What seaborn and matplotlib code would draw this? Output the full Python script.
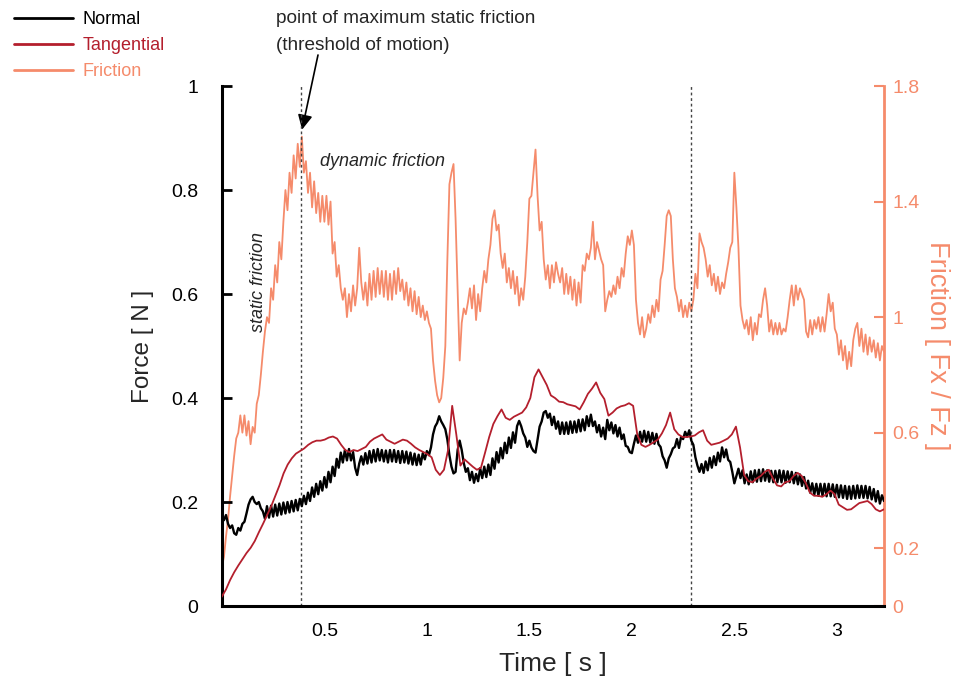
import numpy as np
import pandas as pd
import matplotlib
matplotlib.use("Agg")
import matplotlib.pyplot as plt
from matplotlib.lines import Line2D
import seaborn as sns

sns.set_style("white")
plt.rcParams["font.family"] = ["Liberation Sans", "DejaVu Sans"]

# ---------------- data ----------------
normal_force = [
    0.172, 0.165, 0.175, 0.158, 0.150, 0.155, 0.140, 0.137, 0.150, 0.145,
    0.158, 0.162, 0.178, 0.195, 0.205, 0.210, 0.200, 0.196, 0.200, 0.188,
    0.182, 0.168, 0.192, 0.170, 0.193, 0.172, 0.195, 0.174, 0.197, 0.176,
    0.199, 0.178, 0.200, 0.180, 0.202, 0.182, 0.204, 0.184, 0.206, 0.192,
    0.212, 0.196, 0.218, 0.202, 0.228, 0.210, 0.235, 0.215, 0.240, 0.222,
    0.248, 0.228, 0.258, 0.238, 0.268, 0.250, 0.283, 0.266, 0.295, 0.276,
    0.300, 0.280, 0.302, 0.280, 0.296, 0.266, 0.252, 0.274, 0.288, 0.272,
    0.294, 0.274, 0.298, 0.276, 0.300, 0.278, 0.302, 0.280, 0.300, 0.278,
    0.299, 0.276, 0.300, 0.278, 0.300, 0.277, 0.298, 0.275, 0.298, 0.276,
    0.297, 0.274, 0.295, 0.272, 0.293, 0.271, 0.291, 0.272, 0.294, 0.282,
    0.298, 0.290, 0.305, 0.330, 0.345, 0.352, 0.365, 0.355, 0.348, 0.340,
    0.320, 0.290, 0.268, 0.255, 0.258, 0.300, 0.318, 0.300, 0.275, 0.258,
    0.265, 0.242, 0.258, 0.237, 0.254, 0.240, 0.265, 0.246, 0.268, 0.248,
    0.272, 0.252, 0.284, 0.264, 0.296, 0.276, 0.304, 0.284, 0.314, 0.294,
    0.324, 0.304, 0.334, 0.314, 0.346, 0.356, 0.346, 0.332, 0.324, 0.306,
    0.318, 0.305, 0.298, 0.295, 0.320, 0.345, 0.355, 0.372, 0.375, 0.362,
    0.370, 0.348, 0.364, 0.341, 0.355, 0.331, 0.353, 0.331, 0.353, 0.331,
    0.355, 0.333, 0.355, 0.334, 0.358, 0.336, 0.359, 0.338, 0.365, 0.346,
    0.368, 0.346, 0.355, 0.334, 0.348, 0.326, 0.343, 0.321, 0.358, 0.338,
    0.353, 0.332, 0.348, 0.326, 0.343, 0.321, 0.330, 0.308, 0.306, 0.296,
    0.294, 0.312, 0.328, 0.314, 0.335, 0.316, 0.337, 0.316, 0.335, 0.314,
    0.333, 0.312, 0.331, 0.311, 0.306, 0.288, 0.280, 0.266, 0.284, 0.292,
    0.303, 0.306, 0.321, 0.304, 0.325, 0.321, 0.335, 0.326, 0.338, 0.318,
    0.310, 0.286, 0.270, 0.258, 0.273, 0.256, 0.278, 0.261, 0.285, 0.266,
    0.288, 0.271, 0.295, 0.278, 0.305, 0.286, 0.301, 0.281, 0.277, 0.258,
    0.236, 0.250, 0.264, 0.246, 0.261, 0.236, 0.253, 0.234, 0.259, 0.238,
    0.261, 0.239, 0.262, 0.240, 0.263, 0.241, 0.261, 0.239, 0.260, 0.238,
    0.260, 0.238, 0.261, 0.238, 0.260, 0.237, 0.259, 0.238, 0.258, 0.236,
    0.256, 0.234, 0.253, 0.231, 0.248, 0.226, 0.241, 0.218, 0.236, 0.214,
    0.235, 0.212, 0.235, 0.212, 0.235, 0.211, 0.235, 0.211, 0.234, 0.210,
    0.233, 0.209, 0.232, 0.208, 0.231, 0.206, 0.230, 0.206, 0.231, 0.207,
    0.232, 0.208, 0.231, 0.208, 0.231, 0.207, 0.229, 0.205, 0.225, 0.201,
    0.221, 0.197, 0.213, 0.202,
]

friction_coef = [
    0.136, 0.170, 0.240, 0.300, 0.380, 0.450, 0.520, 0.580, 0.600, 0.660,
    0.600, 0.660, 0.590, 0.640, 0.560, 0.620, 0.600, 0.700, 0.730, 0.800,
    0.880, 0.950, 1.000, 0.980, 1.100, 1.060, 1.180, 1.120, 1.260, 1.200,
    1.330, 1.440, 1.370, 1.500, 1.430, 1.560, 1.480, 1.600, 1.520, 1.625,
    1.500, 1.540, 1.430, 1.500, 1.380, 1.470, 1.360, 1.430, 1.330, 1.420,
    1.330, 1.420, 1.320, 1.400, 1.220, 1.260, 1.140, 1.180, 1.100, 1.060,
    1.100, 1.000, 1.080, 1.020, 1.110, 1.040, 1.100, 1.240, 1.120, 1.060,
    1.120, 1.040, 1.150, 1.060, 1.160, 1.070, 1.170, 1.080, 1.160, 1.070,
    1.160, 1.060, 1.150, 1.060, 1.160, 1.080, 1.170, 1.090, 1.130, 1.060,
    1.120, 1.040, 1.100, 1.020, 1.090, 1.010, 1.070, 1.000, 1.040, 0.990,
    1.020, 0.980, 0.960, 0.850, 0.780, 0.730, 0.705, 0.720, 0.790, 0.900,
    1.200, 1.460, 1.500, 1.530, 1.340, 1.100, 0.850, 0.980, 1.030, 1.010,
    1.050, 1.100, 1.030, 1.110, 0.990, 1.080, 1.020, 1.100, 1.160, 1.120,
    1.200, 1.250, 1.340, 1.370, 1.300, 1.320, 1.220, 1.170, 1.220, 1.120,
    1.170, 1.100, 1.160, 1.080, 1.140, 1.040, 1.100, 1.060, 1.140, 1.260,
    1.410, 1.420, 1.500, 1.580, 1.420, 1.300, 1.330, 1.200, 1.130, 1.180,
    1.100, 1.180, 1.120, 1.190, 1.150, 1.120, 1.170, 1.080, 1.150, 1.080,
    1.140, 1.060, 1.130, 1.040, 1.120, 1.050, 1.180, 1.160, 1.220, 1.200,
    1.240, 1.330, 1.200, 1.260, 1.230, 1.200, 1.180, 1.020, 1.060, 1.090,
    1.070, 1.110, 1.080, 1.140, 1.100, 1.170, 1.140, 1.220, 1.280, 1.250,
    1.300, 1.250, 1.060, 0.980, 0.940, 1.000, 0.930, 0.960, 1.010, 0.980,
    1.040, 1.000, 1.060, 1.020, 1.130, 1.160, 1.250, 1.350, 1.370, 1.350,
    1.200, 1.100, 1.070, 1.020, 1.060, 1.000, 1.040, 1.000, 1.050, 1.020,
    1.060, 1.150, 1.100, 1.290, 1.260, 1.240, 1.200, 1.140, 1.180, 1.110,
    1.150, 1.090, 1.140, 1.080, 1.120, 1.100, 1.150, 1.190, 1.240, 1.260,
    1.500, 1.380, 1.240, 1.040, 0.990, 0.960, 0.990, 0.940, 1.000, 0.920,
    0.980, 0.940, 1.010, 1.000, 1.060, 1.100, 1.040, 0.950, 0.990, 0.940,
    0.980, 0.940, 0.980, 0.940, 0.960, 0.950, 1.000, 1.060, 1.110, 1.040,
    1.110, 1.060, 1.100, 1.080, 1.060, 0.950, 0.930, 0.990, 0.940, 0.990,
    0.960, 1.000, 0.950, 1.000, 0.950, 1.010, 1.080, 1.020, 1.050, 0.960,
    0.940, 0.870, 0.920, 0.850, 0.900, 0.820, 0.880, 0.830, 0.920, 0.960,
    0.980, 0.900, 0.960, 0.880, 0.940, 0.870, 0.930, 0.880, 0.920, 0.860,
    0.910, 0.850, 0.900, 0.880,
]

tangential_force = [
    0.018, 0.032, 0.050, 0.065, 0.078, 0.090, 0.102, 0.112, 0.125, 0.142,
    0.158, 0.175, 0.192, 0.212, 0.232, 0.255, 0.272, 0.284, 0.293, 0.298,
    0.303, 0.310, 0.315, 0.318, 0.318, 0.320, 0.324, 0.326, 0.322, 0.310,
    0.300, 0.296, 0.300, 0.298, 0.302, 0.306, 0.316, 0.322, 0.326, 0.330,
    0.320, 0.316, 0.312, 0.316, 0.320, 0.318, 0.312, 0.305, 0.300, 0.296,
    0.292, 0.286, 0.262, 0.252, 0.262, 0.300, 0.385, 0.330, 0.270, 0.282,
    0.275, 0.268, 0.262, 0.266, 0.295, 0.325, 0.350, 0.365, 0.378, 0.362,
    0.358, 0.364, 0.368, 0.372, 0.382, 0.400, 0.440, 0.455, 0.440, 0.425,
    0.405, 0.400, 0.393, 0.392, 0.388, 0.386, 0.384, 0.378, 0.392, 0.408,
    0.418, 0.430, 0.410, 0.398, 0.366, 0.372, 0.380, 0.384, 0.386, 0.390,
    0.385, 0.330, 0.310, 0.306, 0.310, 0.315, 0.320, 0.332, 0.348, 0.372,
    0.340, 0.330, 0.325, 0.325, 0.326, 0.328, 0.334, 0.338, 0.318, 0.310,
    0.312, 0.314, 0.318, 0.322, 0.330, 0.345, 0.305, 0.252, 0.240, 0.238,
    0.245, 0.250, 0.258, 0.262, 0.245, 0.232, 0.230, 0.238, 0.240, 0.250,
    0.256, 0.250, 0.236, 0.218, 0.212, 0.212, 0.210, 0.215, 0.222, 0.215,
    0.195, 0.190, 0.185, 0.186, 0.192, 0.198, 0.200, 0.202, 0.196, 0.186,
    0.182, 0.186,
]

t_end = 3.23
time_fine = np.linspace(0, t_end, len(normal_force))
time_coarse = np.linspace(0, t_end, len(tangential_force))

x_ticks = [0.5, 1, 1.5, 2, 2.5, 3]
force_ticks = [0, 0.2, 0.4, 0.6, 0.8, 1]
friction_ticks = [0, 0.2, 0.6, 1, 1.4, 1.8]
event_times = [0.386, 2.289]

series_labels = ["Normal", "Tangential", "Friction"]

# ---------------- styling ----------------
C_NORMAL = "#000000"
C_TANG = "#B41F2D"
C_FRIC = "#F58B6B"

df_n = pd.DataFrame({"t": time_fine, "v": normal_force})
df_f = pd.DataFrame({"t": time_fine, "v": friction_coef})
df_t = pd.DataFrame({"t": time_coarse, "v": tangential_force})

fig = plt.figure(figsize=(9.66, 6.8), dpi=100)
ax = fig.add_axes([0.2297, 0.1088, 0.6854, 0.7647])
ax2 = ax.twinx()

sns.lineplot(data=df_f, x="t", y="v", ax=ax2, color=C_FRIC, lw=1.3, zorder=2)
sns.lineplot(data=df_t, x="t", y="v", ax=ax, color=C_TANG, lw=1.3, zorder=4)
sns.lineplot(data=df_n, x="t", y="v", ax=ax, color=C_NORMAL, lw=1.7, zorder=3)

ax.set_zorder(ax2.get_zorder() + 1)
ax.patch.set_visible(False)

ax.set_xlim(0, t_end)
ax.set_ylim(0, 1)
ax2.set_ylim(0, 1.8)

for tx in event_times:
    ax.axvline(tx, color="#444444", lw=1.0, ls=(0, (2, 2)), zorder=1)

ax.set_xticks(x_ticks)
ax.set_xticklabels([f"{v:g}" for v in x_ticks])
ax.set_yticks(force_ticks)
ax.set_yticklabels([f"{v:g}" for v in force_ticks])
ax2.set_yticks(friction_ticks)
ax2.set_yticklabels([f"{v:g}" for v in friction_ticks])

ax.tick_params(axis="both", direction="in", length=7, width=2, colors="black",
               labelsize=14)
ax.tick_params(axis="y", pad=17)
ax.tick_params(axis="x", pad=12)
ax2.tick_params(axis="y", direction="in", length=7, width=1.5, colors=C_FRIC,
                labelsize=14, pad=6)

ax.spines["top"].set_visible(False)
ax2.spines["top"].set_visible(False)
ax.spines["right"].set_visible(False)
ax2.spines["left"].set_visible(False)
ax2.spines["bottom"].set_visible(False)
for s in ["left", "bottom"]:
    ax.spines[s].set_linewidth(2.2)
    ax.spines[s].set_color("black")
ax2.spines["right"].set_color(C_FRIC)
ax2.spines["right"].set_linewidth(2.0)

ax.set_xlabel("Time [ s ]", fontsize=19, labelpad=9)
ax.set_ylabel("Force [ N ]", fontsize=17.5, labelpad=12)
ax2.set_ylabel("Friction [ Fx / Fz ]", fontsize=19.5, color=C_FRIC,
               rotation=270, labelpad=22)

# annotations
ax.text(0.479, 0.855, "dynamic friction", style="italic", fontsize=13,
        ha="left", va="center")
ax.text(0.179, 0.624, "static friction", style="italic", fontsize=13,
        ha="center", va="center", rotation=90)
fig.text(276 / 966, 1 - 10 / 680,
         "point of maximum static friction\n(threshold of motion)",
         fontsize=13.7, ha="left", va="top", linespacing=1.75)
ax2.annotate("", xy=(0.391, 1.649), xycoords="data",
             xytext=(318, 625), textcoords="figure pixels",
             arrowprops=dict(arrowstyle="-|>", color="black", lw=1.2,
                             mutation_scale=22, shrinkA=0, shrinkB=0))

# legend
handles = [Line2D([], [], color=C_NORMAL, lw=2),
           Line2D([], [], color=C_TANG, lw=2),
           Line2D([], [], color=C_FRIC, lw=2)]
leg = fig.legend(handles, series_labels, loc="upper left",
                 bbox_to_anchor=(0.003, 1.0), bbox_transform=fig.transFigure,
                 frameon=False, fontsize=13, handlelength=3.3,
                 handletextpad=0.5, labelspacing=0.5, borderaxespad=0.2)
for txt, c in zip(leg.get_texts(), [C_NORMAL, C_TANG, C_FRIC]):
    txt.set_color(c)

fig.savefig("out.png", dpi=100)
